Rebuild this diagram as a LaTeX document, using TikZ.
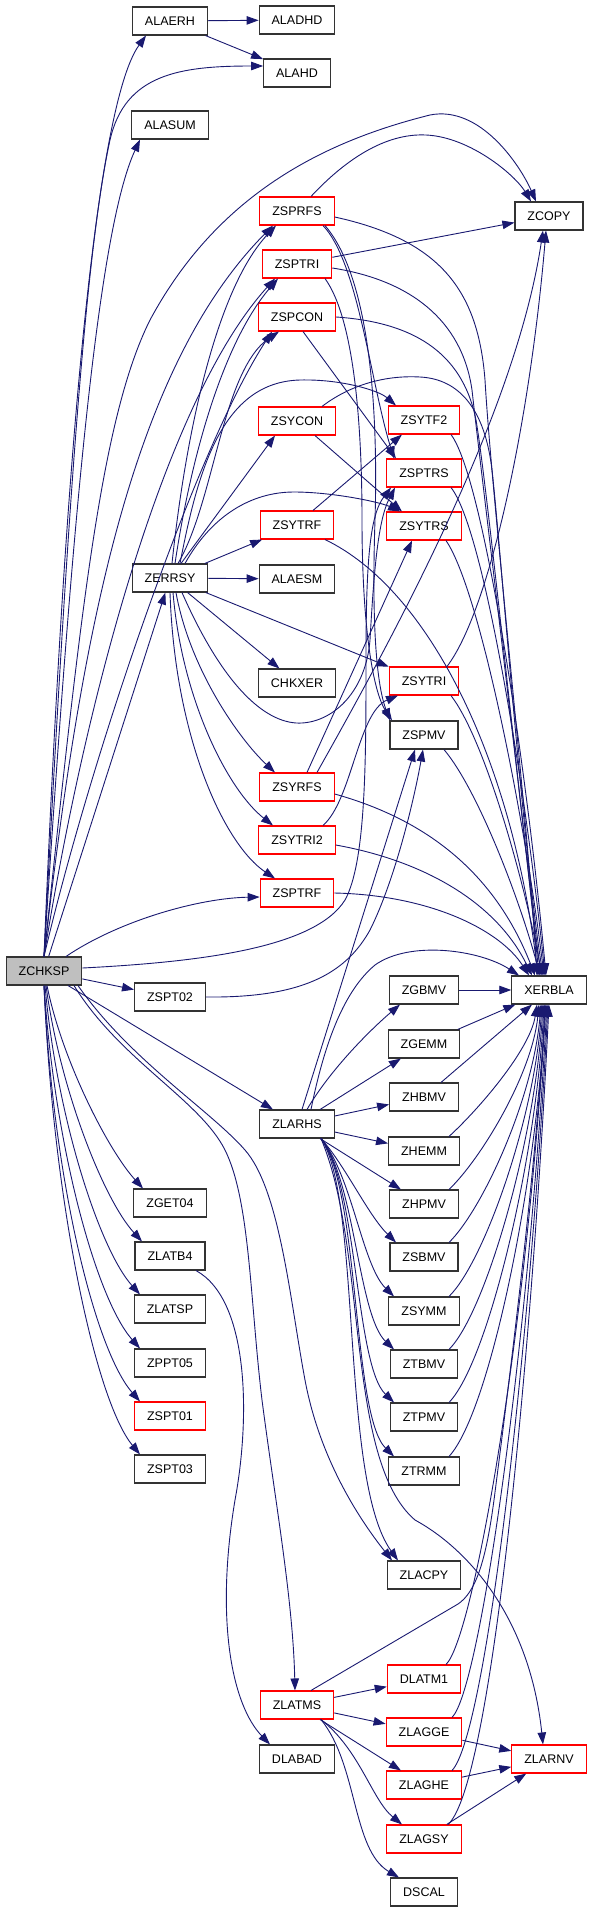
\documentclass[tikz,border=0pt]{standalone}
\usepackage{fontspec}
\setmainfont{Liberation Sans}
\usetikzlibrary{arrows.meta}
\definecolor{callblue}{HTML}{191970}
\definecolor{rootgrey}{HTML}{BFBFBF}

\begin{document}
\begin{tikzpicture}[x=1pt, y=-1pt,
    fn/.style={draw=black!80, line width=1.1pt, fill=white, minimum height=28pt,
               inner xsep=12.5pt, inner ysep=0pt, font=\fontsize{12.5}{15}\selectfont},
    fnred/.style={fn, draw=red},
    fnroot/.style={fn, fill=rootgrey},
    call/.style={draw=callblue, line width=0.9pt, -{Triangle[length=12pt,width=8.5pt]}}]
  \useasboundingbox (0,0) rectangle (589,1912);

  % column of the driver and its helpers
  \node[fnroot] (ZCHKSP) at (44,971) {ZCHKSP};
  \node[fn] (ALAERH) at (170,21) {ALAERH};
  \node[fn] (ALASUM) at (170,125) {ALASUM};
  \node[fn] (ZERRSY) at (170,578) {ZERRSY};
  \node[fn] (ZSPT02) at (170,997) {ZSPT02};
  \node[fn] (ZGET04) at (170,1203) {ZGET04};
  \node[fn] (ZLATB4) at (170,1256) {ZLATB4};
  \node[fn] (ZLATSP) at (170,1309) {ZLATSP};
  \node[fn] (ZPPT05) at (170,1363) {ZPPT05};
  \node[fnred] (ZSPT01) at (170,1416) {ZSPT01};
  \node[fn] (ZSPT03) at (170,1469) {ZSPT03};

  \node[fn] (ALADHD) at (297,20) {ALADHD};
  \node[fn] (ALAHD) at (297,73) {ALAHD};
  \node[fnred] (ZSPRFS) at (297,211) {ZSPRFS};
  \node[fnred] (ZSPTRI) at (297,264) {ZSPTRI};
  \node[fnred] (ZSPCON) at (297,317) {ZSPCON};
  \node[fnred] (ZSYCON) at (297,421) {ZSYCON};
  \node[fnred] (ZSYTRF) at (297,525) {ZSYTRF};
  \node[fn] (ALAESM) at (297,579) {ALAESM};
  \node[fn] (CHKXER) at (297,683) {CHKXER};
  \node[fnred] (ZSYRFS) at (297,787) {ZSYRFS};
  \node[fnred] (ZSYTRI2) at (297,840) {ZSYTRI2};
  \node[fnred] (ZSPTRF) at (297,893) {ZSPTRF};
  \node[fn] (ZLARHS) at (297,1124) {ZLARHS};
  \node[fnred] (ZLATMS) at (297,1705) {ZLATMS};
  \node[fn] (DLABAD) at (297,1759) {DLABAD};

  \node[fnred] (ZSYTF2) at (424,420) {ZSYTF2};
  \node[fnred] (ZSPTRS) at (424,473) {ZSPTRS};
  \node[fnred] (ZSYTRS) at (424,526) {ZSYTRS};
  \node[fnred] (ZSYTRI) at (424,681) {ZSYTRI};
  \node[fn] (ZSPMV) at (424,735) {ZSPMV};
  \node[fn] (ZGBMV) at (424,990) {ZGBMV};
  \node[fn] (ZGEMM) at (424,1044) {ZGEMM};
  \node[fn] (ZHBMV) at (424,1097) {ZHBMV};
  \node[fn] (ZHEMM) at (424,1151) {ZHEMM};
  \node[fn] (ZHPMV) at (424,1204) {ZHPMV};
  \node[fn] (ZSBMV) at (424,1257) {ZSBMV};
  \node[fn] (ZSYMM) at (424,1311) {ZSYMM};
  \node[fn] (ZTBMV) at (424,1364) {ZTBMV};
  \node[fn] (ZTPMV) at (424,1417) {ZTPMV};
  \node[fn] (ZTRMM) at (424,1471) {ZTRMM};
  \node[fn] (ZLACPY) at (424,1575) {ZLACPY};
  \node[fnred] (DLATM1) at (424,1679) {DLATM1};
  \node[fnred] (ZLAGGE) at (424,1732) {ZLAGGE};
  \node[fnred] (ZLAGHE) at (424,1785) {ZLAGHE};
  \node[fnred] (ZLAGSY) at (424,1839) {ZLAGSY};
  \node[fn] (DSCAL) at (424,1892) {DSCAL};

  \node[fn] (ZCOPY) at (549,216) {ZCOPY};
  \node[fn] (XERBLA) at (549,990) {XERBLA};
  \node[fnred] (ZLARNV) at (549,1759) {ZLARNV};

  % ZCHKSP
  \draw[call] (ZCHKSP.north) .. controls (62,520) and (92,110) .. ([xshift=-24pt]ALAERH.south);
  \draw[call] (ZCHKSP.north) .. controls (68,500) and (86,250) .. (110,140) .. controls (125,74) and (180,66) .. ([yshift=7pt]ALAHD.west);
  \draw[call] (ZCHKSP.north) .. controls (72,520) and (98,230) .. ([xshift=-30pt]ALASUM.south);
  \draw[call] (ZCHKSP.north) .. controls (80,620) and (100,420) .. (150,320) .. controls (220,190) and (330,140) .. (430,115) .. controls (480,105) and (520,165) .. ([xshift=-13pt]ZCOPY.north);
  \draw[call] (ZCHKSP.north) .. controls (80,640) and (130,370) .. ([xshift=-24pt]ZSPRFS.south);
  \draw[call] (ZCHKSP.north) .. controls (85,700) and (165,400) .. ([xshift=-22pt]ZSPTRI.south);
  \draw[call] (ZCHKSP.north) .. controls (90,760) and (195,450) .. ([xshift=-25pt]ZSPCON.south);
  \draw[call] (ZCHKSP) -- (ZERRSY);
  \draw[call] ([xshift=22pt]ZCHKSP.north) .. controls (120,920) and (200,898) .. ([yshift=-4pt]ZSPTRF.west);
  \draw[call] ([yshift=3pt]ZCHKSP.east) .. controls (200,962) and (315,948) .. (345,900) .. controls (366,862) and (366,760) .. (366,660) .. controls (366,560) and (370,515) .. ([xshift=-33pt]ZSPTRS.south);
  \draw[call] (ZCHKSP) -- (ZSPT02);
  \draw[call] (ZCHKSP) -- (ZLARHS);
  \draw[call] ([xshift=3pt]ZCHKSP.south) .. controls (62,1060) and (108,1150) .. ([xshift=-27pt]ZGET04.north);
  \draw[call] ([xshift=2pt]ZCHKSP.south) .. controls (60,1090) and (104,1200) .. ([xshift=-28pt]ZLATB4.north);
  \draw[call] ([xshift=1pt]ZCHKSP.south) .. controls (57,1120) and (100,1250) .. ([xshift=-30pt]ZLATSP.north);
  \draw[call] (ZCHKSP.south) .. controls (55,1150) and (97,1300) .. ([xshift=-30pt]ZPPT05.north);
  \draw[call] (ZCHKSP.south) .. controls (53,1180) and (95,1350) .. ([xshift=-30pt]ZSPT01.north);
  \draw[call] (ZCHKSP.south) .. controls (53,1200) and (95,1400) .. ([xshift=-30pt]ZSPT03.north);
  \draw[call] ([xshift=30pt]ZCHKSP.south) .. controls (120,1060) and (200,1100) .. (225,1150) .. controls (250,1200) and (250,1300) .. (262,1400) .. controls (275,1500) and (293,1600) .. ([xshift=-2pt]ZLATMS.north);
  \draw[call] ([xshift=34pt]ZCHKSP.south) .. controls (130,1060) and (210,1110) .. (245,1150) .. controls (280,1190) and (290,1300) .. (305,1380) .. controls (320,1460) and (360,1520) .. ([xshift=-32pt]ZLACPY.north);

  % ALAERH
  \draw[call] (ALAERH) -- (ALADHD);
  \draw[call] (ALAERH) -- (ALAHD);

  % ZERRSY
  \draw[call] (ZERRSY) -- (ALAESM);
  \draw[call] (ZERRSY) -- (ZSYTRF);
  \draw[call] (ZERRSY) -- (CHKXER);
  \draw[call] (ZERRSY) -- (ZSYTRI);
  \draw[call] ([xshift=11pt]ZERRSY.north) -- ([xshift=-22pt]ZSYCON.south);
  \draw[call] ([xshift=2pt]ZERRSY.north) .. controls (185,440) and (215,290) .. ([xshift=-21pt]ZSPRFS.south);
  \draw[call] ([xshift=5pt]ZERRSY.north) .. controls (192,450) and (225,340) .. ([xshift=-19pt]ZSPTRI.south);
  \draw[call] ([xshift=8pt]ZERRSY.north) .. controls (215,500) and (222,370) .. ([xshift=-18pt]ZSPCON.south);
  \draw[call] ([xshift=10pt]ZERRSY.north) .. controls (198,470) and (222,382) .. (300,380) .. controls (340,379) and (378,390) .. ([xshift=-28pt]ZSYTF2.north);
  \draw[call] ([xshift=15pt]ZERRSY.north) .. controls (212,515) and (252,492) .. (294,492) .. controls (332,492) and (380,502) .. ([xshift=-24pt]ZSYTRS.north);
  \draw[call] ([xshift=6pt]ZERRSY.south) .. controls (190,670) and (240,740) .. ([xshift=-22pt]ZSYRFS.north);
  \draw[call] ([xshift=3pt]ZERRSY.south) .. controls (182,700) and (228,790) .. ([xshift=-24pt]ZSYTRI2.north);
  \draw[call] (ZERRSY.south) .. controls (175,740) and (225,845) .. ([xshift=-22pt]ZSPTRF.north);
  \draw[call] ([xshift=12pt]ZERRSY.south) .. controls (225,690) and (268,725) .. (302,723) .. controls (335,721) and (366,690) .. (370,640) .. controls (374,570) and (378,520) .. ([xshift=-29pt]ZSPTRS.south);

  % the solvers
  \draw[call] ([xshift=14pt]ZSPRFS.north) .. controls (345,160) and (385,133) .. (426,135) .. controls (470,137) and (515,175) .. ([xshift=-18pt]ZCOPY.north);
  \draw[call] (ZSPTRI) -- (ZCOPY);
  \draw[call] ([xshift=20pt]ZSYRFS.north) .. controls (380,660) and (515,420) .. ([xshift=-6pt]ZCOPY.south);
  \draw[call] ([xshift=23pt]ZSYTRI.north) .. controls (490,610) and (530,420) .. ([xshift=-3pt]ZCOPY.south);
  \draw[call] ([xshift=26pt]ZSPRFS.south) .. controls (358,262) and (370,380) .. ([xshift=-30pt]ZSPTRS.north);
  \draw[call] ([xshift=28pt]ZSPRFS.south) .. controls (372,280) and (378,420) .. (375,520) .. controls (372,610) and (375,680) .. ([xshift=-34pt]ZSPMV.north);
  \draw[call] ([xshift=28pt]ZSPTRI.south) .. controls (355,320) and (362,430) .. (362,520) .. controls (362,620) and (372,690) .. ([xshift=-32pt]ZSPMV.north);
  \draw[call] ([xshift=6pt]ZSPCON.south) -- ([xshift=-28pt]ZSPTRS.north);
  \draw[call] ([xshift=18pt]ZSYCON.south) -- ([xshift=-22pt]ZSYTRS.north);
  \draw[call] ([xshift=16pt]ZSYTRF.north) -- ([xshift=-22pt]ZSYTF2.south);
  \draw[call] ([xshift=10pt]ZSYRFS.north) -- ([xshift=-12pt]ZSYTRS.south);
  \draw[call] ([xshift=26pt]ZSYTRI2.north) .. controls (352,800) and (358,712) .. ([xshift=-26pt]ZSYTRI.south);

  % XERBLA from above
  \draw[call] ([yshift=-6pt]ZSPRFS.east) .. controls (440,240) and (478,290) .. (485,380) .. controls (492,500) and (528,820) .. ([xshift=-12pt]XERBLA.north);
  \draw[call] ([yshift=-4pt]ZSPTRI.east) .. controls (410,280) and (462,320) .. (472,390) .. controls (482,480) and (524,820) .. ([xshift=-10pt]XERBLA.north);
  \draw[call] (ZSPCON.east) .. controls (410,322) and (462,350) .. (476,420) .. controls (488,490) and (522,830) .. ([xshift=-8pt]XERBLA.north);
  \draw[call] ([xshift=25pt]ZSYCON.north) .. controls (350,385) and (385,375) .. (420,377) .. controls (460,379) and (485,410) .. (492,470) .. controls (500,540) and (522,840) .. ([xshift=-6pt]XERBLA.north);
  \draw[call] ([xshift=27pt]ZSYTF2.south) .. controls (485,480) and (528,780) .. ([xshift=-3pt]XERBLA.north);
  \draw[call] ([xshift=27pt]ZSPTRS.south) .. controls (485,530) and (527,800) .. ([xshift=-4pt]XERBLA.north);
  \draw[call] ([xshift=22pt]ZSYTRS.south) .. controls (480,590) and (525,820) .. ([xshift=-5pt]XERBLA.north);
  \draw[call] ([xshift=28pt]ZSYTRF.south) .. controls (430,590) and (512,760) .. ([xshift=-11pt]XERBLA.north);
  \draw[call] ([xshift=27pt]ZSYTRI.south) .. controls (485,740) and (524,880) .. ([xshift=-7pt]XERBLA.north);
  \draw[call] ([xshift=20pt]ZSPMV.south) .. controls (478,790) and (520,900) .. ([xshift=-9pt]XERBLA.north);
  \draw[call] ([yshift=-7pt]ZSYRFS.east) .. controls (410,815) and (490,860) .. ([xshift=-14pt]XERBLA.north);
  \draw[call] ([yshift=-5pt]ZSYTRI2.east) .. controls (420,860) and (495,900) .. ([xshift=-17pt]XERBLA.north);
  \draw[call] (ZSPTRF.east) .. controls (430,895) and (500,930) .. ([xshift=-20pt]XERBLA.north);
  \draw[call] ([xshift=14pt]ZLARHS.north) .. controls (325,1040) and (345,990) .. (375,965) .. controls (410,940) and (480,950) .. ([xshift=-30pt]XERBLA.north);
  \draw[call] (ZGBMV) -- (XERBLA);

  % ZSPT02, ZLARHS
  \draw[call] (ZSPT02.east) .. controls (300,998) and (345,975) .. (370,930) .. controls (395,880) and (414,800) .. ([xshift=-1pt]ZSPMV.south);
  \draw[call] ([xshift=5pt]ZLARHS.north) -- ([xshift=-9pt]ZSPMV.south);
  \draw[call] ([xshift=10pt]ZLARHS.north) .. controls (330,1070) and (370,1030) .. ([xshift=-24pt]ZGBMV.south);
  \draw[call] (ZLARHS) -- (ZGEMM);
  \draw[call] (ZLARHS) -- (ZHBMV);
  \draw[call] (ZLARHS) -- (ZHEMM);
  \draw[call] (ZLARHS) -- (ZHPMV);
  \draw[call] ([xshift=24pt]ZLARHS.south) .. controls (345,1165) and (368,1215) .. ([xshift=-28pt]ZSBMV.north);
  \draw[call] ([xshift=24pt]ZLARHS.south) .. controls (352,1175) and (362,1265) .. ([xshift=-30pt]ZSYMM.north);
  \draw[call] ([xshift=24pt]ZLARHS.south) .. controls (355,1180) and (358,1315) .. ([xshift=-30pt]ZTBMV.north);
  \draw[call] ([xshift=24pt]ZLARHS.south) .. controls (358,1185) and (355,1365) .. ([xshift=-30pt]ZTPMV.north);
  \draw[call] ([xshift=24pt]ZLARHS.south) .. controls (360,1190) and (352,1415) .. ([xshift=-30pt]ZTRMM.north);
  \draw[call] ([xshift=24pt]ZLARHS.south) .. controls (362,1200) and (340,1480) .. ([xshift=-26pt]ZLACPY.north);
  \draw[call] ([xshift=24pt]ZLARHS.south) .. controls (368,1250) and (345,1460) .. (415,1520) .. controls (470,1550) and (530,1620) .. ([xshift=-6pt]ZLARNV.north);

  % XERBLA from below
  \draw[call] (ZGEMM) -- (XERBLA);
  \draw[call] (ZHBMV) -- (XERBLA);
  \draw[call] ([xshift=25pt]ZHEMM.north) .. controls (478,1110) and (530,1050) .. ([xshift=-12pt]XERBLA.south);
  \draw[call] ([xshift=25pt]ZHPMV.north) .. controls (480,1160) and (532,1075) .. ([xshift=-10pt]XERBLA.south);
  \draw[call] ([xshift=25pt]ZSBMV.north) .. controls (482,1210) and (533,1100) .. ([xshift=-8pt]XERBLA.south);
  \draw[call] ([xshift=25pt]ZSYMM.north) .. controls (484,1262) and (534,1120) .. ([xshift=-7pt]XERBLA.south);
  \draw[call] ([xshift=25pt]ZTBMV.north) .. controls (486,1312) and (535,1140) .. ([xshift=-6pt]XERBLA.south);
  \draw[call] ([xshift=25pt]ZTPMV.north) .. controls (488,1362) and (536,1160) .. ([xshift=-5pt]XERBLA.south);
  \draw[call] ([xshift=25pt]ZTRMM.north) .. controls (490,1412) and (537,1180) .. ([xshift=-4pt]XERBLA.south);
  \draw[call] ([xshift=22pt]DLATM1.north) .. controls (472,1640) and (525,1350) .. ([xshift=-3pt]XERBLA.south);
  \draw[call] ([xshift=28pt]ZLAGGE.north) .. controls (480,1690) and (528,1350) .. ([xshift=-2pt]XERBLA.south);
  \draw[call] ([xshift=28pt]ZLAGHE.north) .. controls (486,1735) and (530,1350) .. ([xshift=-1pt]XERBLA.south);
  \draw[call] ([xshift=24pt]ZLAGSY.north) .. controls (492,1785) and (532,1350) .. (XERBLA.south);
  \draw[call] ([xshift=14pt]ZLATMS.north) -- (458,1604) .. controls (476,1592) and (486,1560) .. (494,1500) .. controls (512,1360) and (538,1150) .. ([xshift=-4pt]XERBLA.south);

  % ZLATB4, ZLATMS
  \draw[call] ([xshift=26pt]ZLATB4.south) .. controls (250,1300) and (250,1420) .. (235,1500) .. controls (215,1620) and (232,1705) .. ([xshift=-27pt]DLABAD.north);
  \draw[call] (ZLATMS) -- (DLATM1);
  \draw[call] (ZLATMS) -- (ZLAGGE);
  \draw[call] (ZLATMS) -- (ZLAGHE);
  \draw[call] ([xshift=24pt]ZLATMS.south) .. controls (360,1750) and (372,1800) .. ([xshift=-22pt]ZLAGSY.north);
  \draw[call] ([xshift=24pt]ZLATMS.south) .. controls (358,1765) and (352,1850) .. ([xshift=-25pt]DSCAL.north);
  \draw[call] (ZLAGGE) -- (ZLARNV);
  \draw[call] (ZLAGHE) -- (ZLARNV);
  \draw[call] (ZLAGSY) -- (ZLARNV);
\end{tikzpicture}
\end{document}
